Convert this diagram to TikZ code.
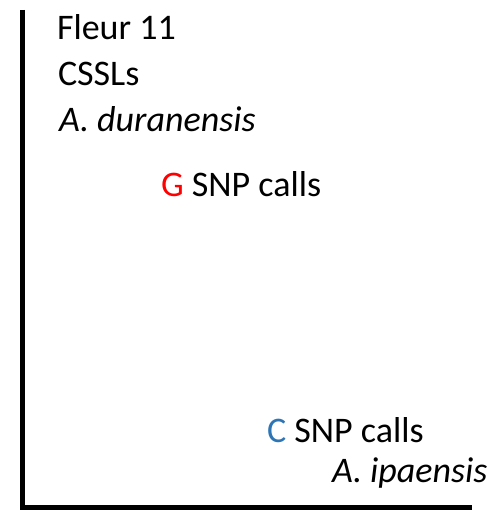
\documentclass[tikz,border=0pt]{standalone}
\usepackage{fontspec}
\setmainfont{Carlito}
\definecolor{gred}{RGB}{255,0,0}
\definecolor{cblue}{RGB}{46,117,182}
\begin{document}
\begin{tikzpicture}[x=1pt,y=-1pt,
  lbl/.style={anchor=base west,inner sep=0pt,outer sep=0pt,font=\fontsize{36}{42}\selectfont},
  axis/.style={line width=5.5pt,line join=miter,line cap=butt}]
\useasboundingbox (0,0) rectangle (495,510);
\coordinate (top) at (22.5,10);
\coordinate (corner) at (22.5,508);
\coordinate (right) at (472,508);
\draw[axis] (top) -- (corner) -- (right);
\node[lbl] (fleur) at (57,40) {Fleur 11};
\node[lbl] (cssl) at (58,86) {CSSLs};
\node[lbl] (adur) at (59,132) {\itshape A. duranensis};
\node[lbl] (gsnp) at (161,197) {\textcolor{gred}{G} SNP calls};
\node[lbl] (csnp) at (267,442) {\textcolor{cblue}{C} SNP calls};
\node[lbl] (aipa) at (332,482) {\itshape A. ipaensis};
\end{tikzpicture}
\end{document}
